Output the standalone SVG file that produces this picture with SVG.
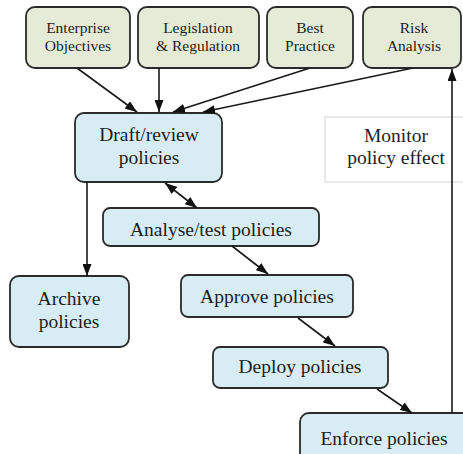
<svg xmlns="http://www.w3.org/2000/svg" width="463" height="454" viewBox="0 0 463 454">
  <style>
    .src rect { fill: #e5ebd7; stroke: #2b2b2b; stroke-width: 1.8; }
    .step rect { fill: #d8ecf3; stroke: #2b2b2b; stroke-width: 1.8; }
    .note rect { fill: #ffffff; stroke: #d4d4d4; stroke-width: 1; }
    text { font-family: "Liberation Serif", "Times New Roman", "DejaVu Serif", serif; fill: #1e1e1e; text-anchor: middle; }
    .src text { font-size: 15.5px; }
    .step text, .note text { font-size: 19.5px; }
    .edges line { stroke: #1a1a1a; stroke-width: 1.6; fill: none; }
  </style>
  <defs>
    <marker id="arrow" viewBox="0 0 12 9" refX="12" refY="4.5" markerWidth="12" markerHeight="9" markerUnits="userSpaceOnUse" orient="auto-start-reverse">
      <path d="M0,0 L12,4.5 L0,9 z" fill="#111"/>
    </marker>
  </defs>

  <rect width="463" height="454" fill="#ffffff"/>

  <!-- monitoring note sits behind the feedback line -->
  <g id="monitor" class="note">
    <rect x="325" y="117" width="140" height="65"/>
    <text x="396" y="142">Monitor</text>
    <text x="396" y="164">policy effect</text>
  </g>

  <!-- policy inputs -->
  <g id="enterprise" class="src">
    <rect x="26" y="7" width="104" height="61" rx="9"/>
    <text x="78" y="33">Enterprise</text>
    <text x="78" y="51">Objectives</text>
  </g>
  <g id="legislation" class="src">
    <rect x="138" y="7" width="121" height="61" rx="9"/>
    <text x="198" y="33">Legislation</text>
    <text x="198" y="51">&amp; Regulation</text>
  </g>
  <g id="best-practice" class="src">
    <rect x="267" y="7" width="86" height="61" rx="9"/>
    <text x="310" y="33">Best</text>
    <text x="310" y="51">Practice</text>
  </g>
  <g id="risk" class="src">
    <rect x="363" y="7" width="98" height="61" rx="9"/>
    <text x="414" y="33">Risk</text>
    <text x="414" y="51">Analysis</text>
  </g>

  <!-- policy lifecycle steps -->
  <g id="draft" class="step">
    <rect x="75" y="113" width="147" height="69" rx="9"/>
    <text x="149" y="141">Draft/review</text>
    <text x="149" y="164">policies</text>
  </g>
  <g id="analyse" class="step">
    <rect x="103" y="208" width="216" height="38" rx="7"/>
    <text x="211" y="236">Analyse/test policies</text>
  </g>
  <g id="archive" class="step">
    <rect x="10" y="276" width="119" height="71" rx="9"/>
    <text x="69" y="305">Archive</text>
    <text x="69" y="328">policies</text>
  </g>
  <g id="approve" class="step">
    <rect x="181" y="275" width="172" height="42" rx="7"/>
    <text x="267" y="303">Approve policies</text>
  </g>
  <g id="deploy" class="step">
    <rect x="213" y="347" width="175" height="41" rx="7"/>
    <text x="300" y="373">Deploy policies</text>
  </g>
  <g id="enforce" class="step">
    <rect x="300" y="413" width="175" height="60" rx="9"/>
    <text x="384" y="445">Enforce policies</text>
  </g>

  <!-- connectors -->
  <g id="edges" class="edges">
    <line x1="77" y1="68" x2="137" y2="112" marker-end="url(#arrow)"/>
    <line x1="159" y1="68" x2="159" y2="112" marker-end="url(#arrow)"/>
    <line x1="310" y1="68" x2="173" y2="112" marker-end="url(#arrow)"/>
    <line x1="413" y1="68" x2="203" y2="112" marker-end="url(#arrow)"/>
    <line x1="165" y1="183" x2="197" y2="208" marker-start="url(#arrow)" marker-end="url(#arrow)"/>
    <line x1="87" y1="182" x2="87" y2="276" marker-end="url(#arrow)"/>
    <line x1="232" y1="246" x2="268" y2="274" marker-end="url(#arrow)"/>
    <line x1="298" y1="318" x2="335" y2="346" marker-end="url(#arrow)"/>
    <line x1="377" y1="389" x2="412" y2="413" marker-end="url(#arrow)"/>
    <line x1="452" y1="413" x2="452" y2="69" marker-end="url(#arrow)"/>
  </g>
</svg>
